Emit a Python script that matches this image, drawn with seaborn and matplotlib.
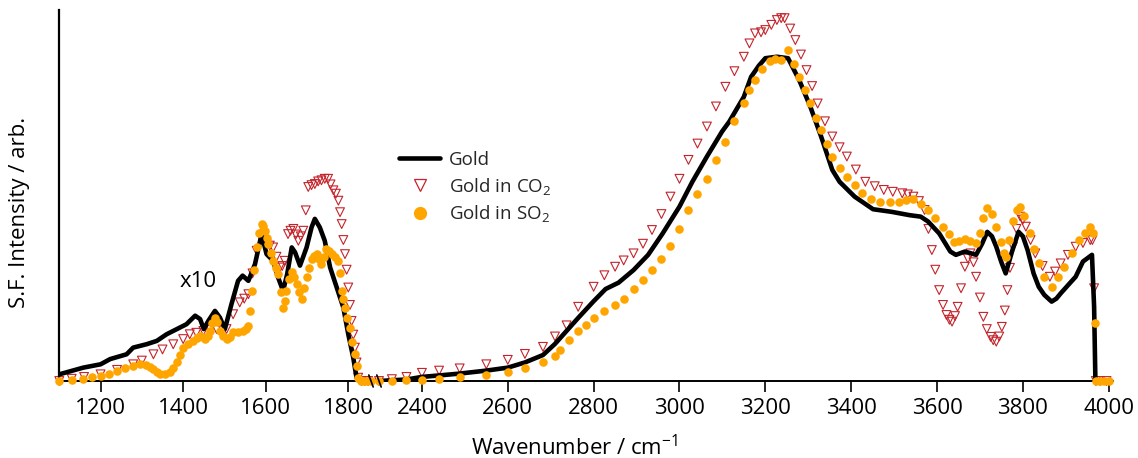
import numpy as np
import pandas as pd
import seaborn as sns
import matplotlib.pyplot as plt
from matplotlib.lines import Line2D

# ---- Spectra: low-frequency window (shown x10) ----
gold_lo_wn = [1100, 1158, 1200, 1223, 1263, 1279, 1311, 1336, 1360, 1392, 1408, 1429, 1441,
              1450, 1461, 1477, 1489, 1501, 1517, 1533, 1544, 1558, 1574, 1590, 1602, 1618,
              1630, 1642, 1652, 1663, 1671, 1683, 1699, 1711, 1719, 1731, 1743, 1756, 1772,
              1788, 1800, 1812, 1820, 1830]
gold_lo = [0.018, 0.036, 0.045, 0.059, 0.072, 0.09, 0.099, 0.108, 0.126, 0.144, 0.153, 0.176,
           0.167, 0.14, 0.162, 0.189, 0.171, 0.14, 0.207, 0.27, 0.284, 0.27, 0.315, 0.396,
           0.342, 0.324, 0.279, 0.243, 0.288, 0.36, 0.347, 0.311, 0.36, 0.414, 0.437, 0.414,
           0.378, 0.306, 0.252, 0.198, 0.126, 0.063, 0.009, 0.0]

co2_lo_wn = [1100, 1130, 1160, 1200, 1240, 1279, 1300, 1328, 1350, 1376, 1400, 1416, 1432,
             1449, 1465, 1481, 1495, 1505, 1521, 1537, 1548, 1558, 1568, 1578, 1590, 1596,
             1602, 1610, 1618, 1626, 1634, 1640, 1646, 1654, 1660, 1667, 1673, 1679, 1685,
             1691, 1697, 1703, 1711, 1719, 1727, 1735, 1743, 1751, 1757, 1764, 1770, 1776,
             1780, 1784, 1788, 1792, 1796, 1800, 1804, 1808, 1812, 1816, 1820, 1824, 1832,
             1840, 1848]
co2_lo = [0.0, 0.006, 0.011, 0.018, 0.03, 0.045, 0.055, 0.072, 0.085, 0.099, 0.113, 0.126,
          0.13, 0.135, 0.138, 0.14, 0.14, 0.14, 0.18, 0.212, 0.222, 0.234, 0.29, 0.351, 0.387,
          0.395, 0.369, 0.365, 0.36, 0.335, 0.306, 0.31, 0.324, 0.396, 0.405, 0.41, 0.395,
          0.378, 0.39, 0.405, 0.46, 0.523, 0.528, 0.531, 0.538, 0.541, 0.545, 0.545, 0.53,
          0.514, 0.505, 0.486, 0.455, 0.423, 0.38, 0.342, 0.3, 0.252, 0.205, 0.162, 0.125,
          0.09, 0.05, 0.009, 0.0, 0.0, 0.0]

so2_lo_wn = [1100, 1130, 1158, 1180, 1200, 1220, 1239, 1260, 1279, 1295, 1310, 1320, 1328,
             1336, 1344, 1356, 1368, 1376, 1384, 1392, 1400, 1412, 1424, 1433, 1441, 1447,
             1453, 1459, 1465, 1471, 1477, 1483, 1489, 1497, 1505, 1513, 1521, 1533, 1546,
             1552, 1558, 1562, 1566, 1572, 1578, 1584, 1590, 1594, 1598, 1602, 1606, 1612,
             1618, 1624, 1630, 1636, 1642, 1646, 1650, 1656, 1663, 1669, 1675, 1681, 1687,
             1693, 1699, 1705, 1711, 1717, 1723, 1729, 1735, 1741, 1747, 1753, 1760, 1768,
             1776, 1780, 1784, 1788, 1792, 1798, 1804, 1810, 1816, 1820, 1824, 1830, 1838,
             1846, 1854]
so2_lo = [0.0, 0.002, 0.005, 0.01, 0.014, 0.02, 0.027, 0.034, 0.041, 0.045, 0.044, 0.038,
          0.032, 0.025, 0.02, 0.02, 0.023, 0.035, 0.05, 0.07, 0.09, 0.1, 0.108, 0.115, 0.122,
          0.118, 0.113, 0.12, 0.135, 0.155, 0.171, 0.158, 0.135, 0.12, 0.113, 0.118, 0.131,
          0.133, 0.135, 0.14, 0.149, 0.19, 0.243, 0.3, 0.36, 0.4, 0.423, 0.418, 0.405, 0.385,
          0.369, 0.345, 0.324, 0.305, 0.288, 0.24, 0.198, 0.215, 0.243, 0.275, 0.293, 0.28,
          0.261, 0.24, 0.221, 0.25, 0.279, 0.305, 0.329, 0.338, 0.342, 0.33, 0.315, 0.335,
          0.356, 0.35, 0.342, 0.335, 0.324, 0.29, 0.243, 0.22, 0.198, 0.17, 0.144, 0.105,
          0.072, 0.04, 0.009, 0.0, 0.0, 0.0, 0.0]

# ---- Spectra: OH / CH stretching window ----
gold_hi_wn = [2300, 2330, 2364, 2400, 2450, 2488, 2550, 2600, 2640, 2682, 2710, 2737, 2764,
              2800, 2828, 2858, 2893, 2927, 2961, 3000, 3030, 3064, 3099, 3116, 3150, 3167,
              3185, 3200, 3227, 3253, 3279, 3305, 3330, 3356, 3373, 3408, 3451, 3494, 3536,
              3562, 3579, 3605, 3631, 3644, 3665, 3691, 3705, 3717, 3728, 3738, 3750, 3760,
              3775, 3790, 3800, 3811, 3825, 3837, 3850, 3867, 3878, 3888, 3905, 3923, 3940,
              3961, 3966, 3969, 3980, 3990, 4000]
gold_hi = [0.0, 0.002, 0.004, 0.011, 0.016, 0.02, 0.028, 0.036, 0.05, 0.07, 0.1, 0.135,
           0.17, 0.215, 0.248, 0.265, 0.299, 0.34, 0.398, 0.47, 0.537, 0.605, 0.672, 0.699,
           0.766, 0.82, 0.85, 0.87, 0.874, 0.87, 0.811, 0.739, 0.659, 0.569, 0.537, 0.497,
           0.463, 0.456, 0.447, 0.443, 0.43, 0.398, 0.349, 0.34, 0.349, 0.34, 0.37, 0.402,
           0.39, 0.362, 0.32, 0.29, 0.35, 0.402, 0.39, 0.353, 0.29, 0.254, 0.232, 0.214,
           0.222, 0.236, 0.258, 0.281, 0.322, 0.34, 0.2, 0.0, 0.0, 0.0, 0.0]

co2_hi_wn = [2300, 2330, 2364, 2400, 2440, 2488, 2550, 2600, 2640, 2682, 2710, 2737, 2764,
             2800, 2825, 2850, 2870, 2893, 2915, 2936, 2958, 2979, 3000, 3021, 3042, 3064,
             3085, 3107, 3128, 3150, 3163, 3176, 3190, 3200, 3214, 3227, 3237, 3245, 3258,
             3270, 3283, 3296, 3309, 3322, 3339, 3356, 3373, 3390, 3411, 3433, 3455, 3476,
             3497, 3519, 3532, 3545, 3558, 3571, 3580, 3588, 3596, 3605, 3614, 3622, 3629,
             3635, 3642, 3648, 3656, 3665, 3672, 3678, 3685, 3691, 3700, 3708, 3716, 3725,
             3731, 3738, 3745, 3751, 3758, 3764, 3770, 3777, 3785, 3794, 3800, 3807, 3818,
             3829, 3846, 3863, 3875, 3888, 3905, 3923, 3940, 3957, 3962, 3966, 3970, 3980,
             3995]
co2_hi = [0.0, 0.005, 0.011, 0.022, 0.028, 0.034, 0.045, 0.057, 0.073, 0.092, 0.12, 0.15,
          0.2, 0.254, 0.285, 0.308, 0.325, 0.344, 0.37, 0.407, 0.45, 0.497, 0.545, 0.596,
          0.64, 0.686, 0.74, 0.793, 0.835, 0.874, 0.91, 0.937, 0.94, 0.946, 0.96, 0.973,
          0.978, 0.978, 0.95, 0.919, 0.88, 0.838, 0.795, 0.748, 0.7, 0.659, 0.63, 0.605,
          0.57, 0.537, 0.525, 0.515, 0.51, 0.506, 0.503, 0.497, 0.485, 0.461, 0.41, 0.353,
          0.3, 0.245, 0.205, 0.178, 0.165, 0.16, 0.175, 0.2, 0.25, 0.308, 0.33, 0.344, 0.32,
          0.281, 0.225, 0.173, 0.14, 0.119, 0.11, 0.106, 0.12, 0.146, 0.19, 0.245, 0.305,
          0.362, 0.41, 0.443, 0.435, 0.416, 0.38, 0.344, 0.31, 0.281, 0.295, 0.317, 0.34,
          0.362, 0.372, 0.38, 0.38, 0.25, 0.0, 0.0, 0.0]

so2_hi_wn = [2300, 2330, 2364, 2400, 2440, 2488, 2550, 2600, 2640, 2682, 2710, 2721, 2742,
             2764, 2782, 2800, 2825, 2850, 2870, 2893, 2915, 2936, 2958, 2979, 3000, 3021,
             3042, 3064, 3085, 3107, 3128, 3150, 3163, 3176, 3193, 3210, 3223, 3236, 3253,
             3266, 3279, 3292, 3305, 3318, 3330, 3343, 3356, 3373, 3390, 3408, 3425, 3446,
             3468, 3490, 3511, 3528, 3545, 3562, 3579, 3596, 3614, 3627, 3640, 3652, 3665,
             3678, 3691, 3700, 3708, 3717, 3727, 3738, 3748, 3755, 3760, 3768, 3778, 3787,
             3794, 3803, 3816, 3826, 3837, 3850, 3867, 3882, 3897, 3914, 3931, 3945, 3957,
             3963, 3967, 3970, 3980, 3990, 4000]
so2_hi = [0.0, 0.0, 0.002, 0.003, 0.006, 0.01, 0.016, 0.024, 0.035, 0.05, 0.068, 0.084,
          0.11, 0.135, 0.152, 0.17, 0.188, 0.205, 0.222, 0.248, 0.272, 0.3, 0.33, 0.365,
          0.41, 0.46, 0.505, 0.545, 0.595, 0.645, 0.7, 0.75, 0.785, 0.81, 0.84, 0.862,
          0.868, 0.865, 0.892, 0.855, 0.82, 0.785, 0.748, 0.71, 0.677, 0.64, 0.605, 0.575,
          0.551, 0.528, 0.506, 0.49, 0.483, 0.483, 0.483, 0.487, 0.49, 0.478, 0.461, 0.44,
          0.416, 0.395, 0.376, 0.378, 0.382, 0.378, 0.371, 0.4, 0.44, 0.465, 0.45, 0.416,
          0.375, 0.345, 0.335, 0.38, 0.43, 0.46, 0.47, 0.445, 0.398, 0.355, 0.317, 0.28,
          0.254, 0.28, 0.308, 0.345, 0.38, 0.4, 0.416, 0.4, 0.155, 0.0, 0.0, 0.0, 0.0]

low_ticks = [1200, 1400, 1600, 1800]
high_ticks = [2400, 2600, 2800, 3000, 3200, 3400, 3600, 3800, 4000]
series_labels = ["Gold", "Gold in CO$_2$", "Gold in SO$_2$"]

BLACK = "#000000"
RED = "#C3242B"
ORANGE = "#FFA500"

sns.set_theme(style="white")
plt.rcParams["font.family"] = ["Open Sans", "DejaVu Sans"]
plt.rcParams["mathtext.fontset"] = "custom"
plt.rcParams["mathtext.rm"] = "Open Sans"
plt.rcParams["mathtext.it"] = "Open Sans:italic"
plt.rcParams["mathtext.bf"] = "Open Sans:bold"

W, H = 1138, 458
fig = plt.figure(figsize=(W / 100, H / 100), dpi=100)
fig.patch.set_facecolor("white")

bottom = (H - 381) / H
height = 371 / H
ax_lo = fig.add_axes([59.3 / W, bottom, (371 - 59.3) / W, height])
ax_hi = fig.add_axes([379 / W, bottom, (1113 - 379) / W, height])


def draw_panel(ax, gold_x, gold_y, co2_x, co2_y, so2_x, so2_y):
    sns.scatterplot(x=co2_x, y=co2_y, ax=ax, marker="v", s=40,
                    facecolor="none", edgecolor=RED, linewidth=0.8,
                    legend=False, clip_on=False, zorder=2)
    sns.lineplot(x=gold_x, y=gold_y, ax=ax, color=BLACK, lw=3.3,
                 sort=False, estimator=None, legend=False, zorder=3)
    sns.scatterplot(x=so2_x, y=so2_y, ax=ax, marker="o", s=38,
                    color=ORANGE, edgecolor=ORANGE, linewidth=0,
                    legend=False, clip_on=False, zorder=4)


draw_panel(ax_lo, gold_lo_wn, gold_lo, co2_lo_wn, co2_lo, so2_lo_wn, so2_lo)
draw_panel(ax_hi, gold_hi_wn, gold_hi, co2_hi_wn, co2_hi, so2_hi_wn, so2_hi)

ax_lo.set_xlim(1100, 1855)
ax_hi.set_xlim(2300, 4010)
for ax, ticks in ((ax_lo, low_ticks), (ax_hi, high_ticks)):
    ax.set_ylim(0, 1)
    ax.set_xticks(ticks)
    ax.set_xticklabels([str(t) for t in ticks])
    ax.set_yticks([])
    ax.set_xlabel("")
    ax.set_ylabel("")
    ax.set_facecolor("none")
    ax.tick_params(axis="x", direction="out", length=8, width=1.2, color=BLACK,
                   labelsize=16, labelcolor=BLACK, pad=4, bottom=True)
    for side in ("top", "right"):
        ax.spines[side].set_visible(False)
    ax.spines["bottom"].set_color(BLACK)
    ax.spines["bottom"].set_linewidth(1.4)
ax_lo.spines["left"].set_color(BLACK)
ax_lo.spines["left"].set_linewidth(1.6)
ax_hi.spines["left"].set_visible(False)

# axis-break marks at the gap between the two windows
for ax, xa in ((ax_lo, 1.0), (ax_hi, 0.0)):
    bb = ax.get_position()
    dx = 2.2 / (bb.width * W)
    dy = 6.0 / (bb.height * H)
    ax.plot([xa - dx, xa + dx], [dy, -dy], transform=ax.transAxes, color=BLACK,
            lw=1.2, clip_on=False, zorder=6)

ax_lo.text(1436, 0.267, "x10", fontsize=16, ha="center", va="center", color=BLACK)

fig.text(20 / W, 1 - 212 / H, "S.F. Intensity / arb.", rotation=90, fontsize=16,
         ha="center", va="center", color=BLACK)
fig.text(575 / W, 1 - 455 / H, "Wavenumber / cm$^{-1}$", fontsize=16,
         ha="center", va="baseline", color=BLACK)

handles = [
    Line2D([], [], color=BLACK, lw=3.3),
    Line2D([], [], ls="none", marker="v", markersize=9, markerfacecolor="none",
           markeredgecolor=RED, markeredgewidth=0.9),
    Line2D([], [], ls="none", marker="o", markersize=8.5, markerfacecolor=ORANGE,
           markeredgecolor=ORANGE),
]
fig.legend(handles, series_labels, loc="upper left",
           bbox_to_anchor=(399 / W, 1 - 151 / H), frameon=False, fontsize=13.5,
           handlelength=2.2, handletextpad=0.45, labelspacing=0.35,
           borderpad=0, borderaxespad=0)

fig.savefig("out.png", dpi=100, facecolor="white")
